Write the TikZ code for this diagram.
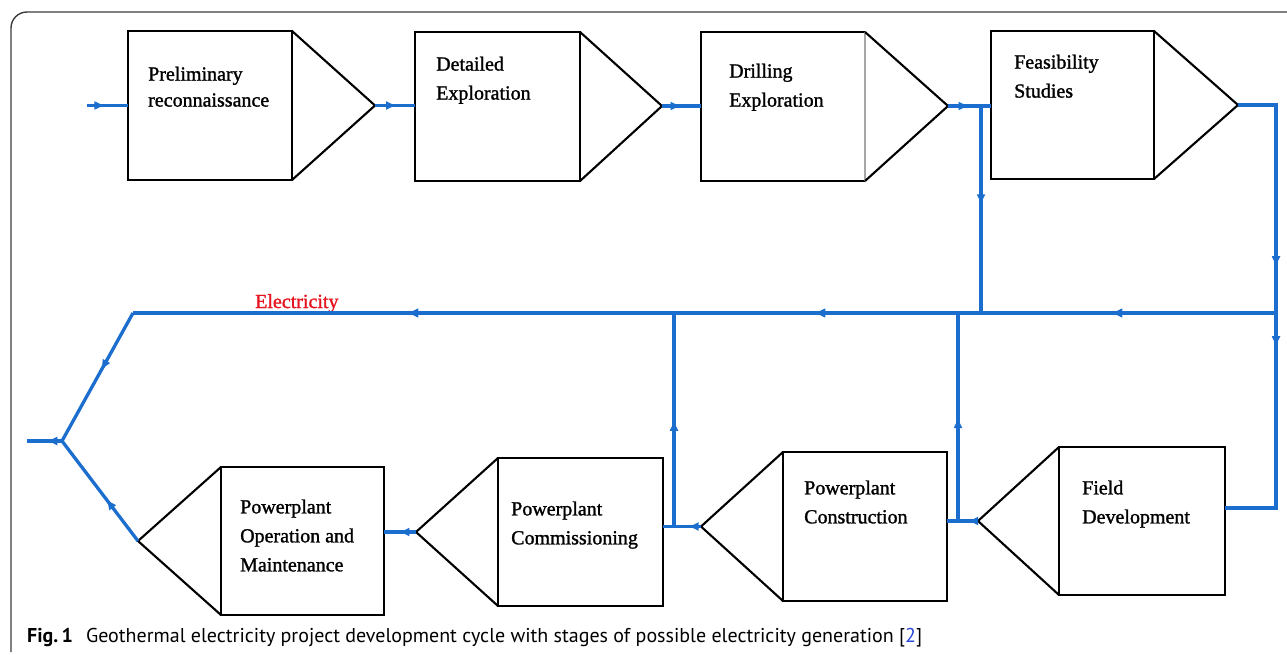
\documentclass[tikz,border=0pt]{standalone}
\usepackage{fontspec}
\setmainfont{Liberation Serif}
\newfontfamily\boxfont{Liberation Serif}[AutoFakeBold=1.3]
\newfontfamily\capfont{PT Sans}
\usetikzlibrary{arrows.meta,decorations.markings}
\definecolor{eblue}{RGB}{28,110,206}
\definecolor{cred}{RGB}{230,20,30}
\definecolor{refblue}{RGB}{40,70,220}
\definecolor{framegray}{RGB}{60,60,60}
\begin{document}
\begin{tikzpicture}[x=1pt,y=-1pt,
  box/.style={draw=black,line width=2.1pt,line join=miter},
  flow/.style={draw=eblue,line width=3.3pt},
  arr at/.style={postaction={decorate},decoration={markings,mark=at position #1 with {\arrow[eblue]{Latex[length=11pt,width=9pt]}}}},
  lbl/.style={anchor=north west,inner sep=0pt,align=left,font=\boxfont\bfseries\fontsize{20}{29}\selectfont},
]
\useasboundingbox (0,0) rectangle (1287,655);
\fill[white] (0,0) rectangle (1287,655);
% frame
\draw[framegray,line width=1.4pt,rounded corners=16pt] (11,652) -- (11,12) -- (1300,12);

% ---------- top row ----------
\draw[box] (128,31) rectangle (292,180);
\draw[box] (292,31) -- (375,105.5) -- (292,180);
\draw[box] (415,32) rectangle (580,181);
\draw[box] (580,32) -- (662,106) -- (580,181);
\draw[box] (865,32) -- (701,32) -- (701,181) -- (865,181);
\draw[black!35,line width=1.2pt] (865,32) -- (865,181);
\draw[box] (865,32) -- (948,106) -- (865,181);
\draw[box] (991,31) rectangle (1154,179);
\draw[box] (1154,31) -- (1238,105) -- (1154,179);

\coordinate (in0) at (87,105.5);
\coordinate (b1in) at (128,105.5);
\coordinate (t1) at (375,105.5);
\coordinate (b2in) at (415,105.5);
\coordinate (t2) at (662,106);
\coordinate (b3in) at (701,106);
\coordinate (t3) at (948,106);
\coordinate (b4in) at (991,106);
\coordinate (br1) at (981,106);
\coordinate (t4) at (1238,105);
\coordinate (rc1) at (1276,105);
\coordinate (rc2) at (1276,508);
\coordinate (fdout) at (1225,508);

\node[lbl] (n1) at (148,66.5) {Preliminary\\[-3pt]reconnaissance};
\node[lbl] (n2) at (436,56.5) {Detailed\\Exploration};
\node[lbl] (n3) at (729,63.5) {Drilling\\Exploration};
\node[lbl] (n4) at (1014,54.5) {Feasibility\\Studies};

% ---------- bottom row ----------
\draw[box] (221,467) rectangle (384,615);
\draw[box] (221,467) -- (138,541) -- (221,615);
\draw[box] (498,458) rectangle (663,606);
\draw[box] (498,458) -- (416,532) -- (498,606);
\draw[box] (783,452) rectangle (947,601);
\draw[box] (783,452) -- (701,526.5) -- (783,601);
\draw[box] (1059,447) rectangle (1225,595);
\draw[box] (1059,447) -- (978,521) -- (1059,595);

\coordinate (omtip) at (138,541);
\coordinate (omin) at (384,532);
\coordinate (cmtip) at (416,532);
\coordinate (cmin) at (663,526.5);
\coordinate (cntip) at (701,526.5);
\coordinate (cnin) at (947,521);
\coordinate (fdtip) at (978,521);
\coordinate (v1b) at (674,526.5);
\coordinate (v2b) at (958,521);

\node[lbl] (n5) at (240,499.3) {Powerplant\\Operation and\\Maintenance};
\node[lbl] (n6) at (511,501.3) {Powerplant\\Commissioning};
\node[lbl] (n7) at (804,480.3) {Powerplant\\Construction};
\node[lbl] (n8) at (1082,480.3) {Field\\Development};

% ---------- electricity line ----------
\coordinate (er) at (1276,313);
\coordinate (e1) at (981,313);
\coordinate (e2) at (958,313);
\coordinate (e3) at (674,313);
\coordinate (el) at (133,313);
\coordinate (jn) at (62,441);
\coordinate (out) at (27,441);

\node[anchor=base west,inner sep=0pt,text=cred,font=\boxfont\bfseries\fontsize{20}{24}\selectfont] (elab) at (255,308) {Electricity};

% ---------- connectors ----------
\draw[flow,arr at=0.45] (in0) -- (b1in);
\draw[flow,arr at=0.55] (t1) -- (b2in);
\draw[flow,arr at=0.5] (t2) -- (b3in);
\draw[flow,arr at=0.5] (t3) -- (b4in);
\draw[flow,arr at=0.48] (br1) -- (e1);
\draw[flow,arr at=200pt,arr at=280pt] (t4) -- (rc1) -- (rc2) -- (fdout);
\draw[flow,arr at=165pt,arr at=462pt,arr at=869pt] (er) -- (e1) -- (e2) -- (e3) -- (el);
\draw[flow,arr at=0.45] (el) -- (jn);
\draw[flow,arr at=0.42] (omtip) -- (jn);
\draw[flow,arr at=0.45] (jn) -- (out);
\draw[flow,arr at=0.55] (cmtip) -- (omin);
\draw[flow,arr at=0.35] (cntip) -- (cmin);
\draw[flow,arr at=0.35] (fdtip) -- (cnin);
\draw[flow,arr at=0.5] (v1b) -- (e3);
\draw[flow,arr at=0.5] (v2b) -- (e2);

% ---------- caption ----------
\node[anchor=base west,inner sep=0pt,font=\capfont\fontsize{20}{22}\selectfont] (cap) at (27,642)
  {\textbf{Fig.\,1}\hspace{13pt}Geothermal electricity project development cycle with stages of possible electricity generation [{\color{refblue}2}]};
\end{tikzpicture}
\end{document}
